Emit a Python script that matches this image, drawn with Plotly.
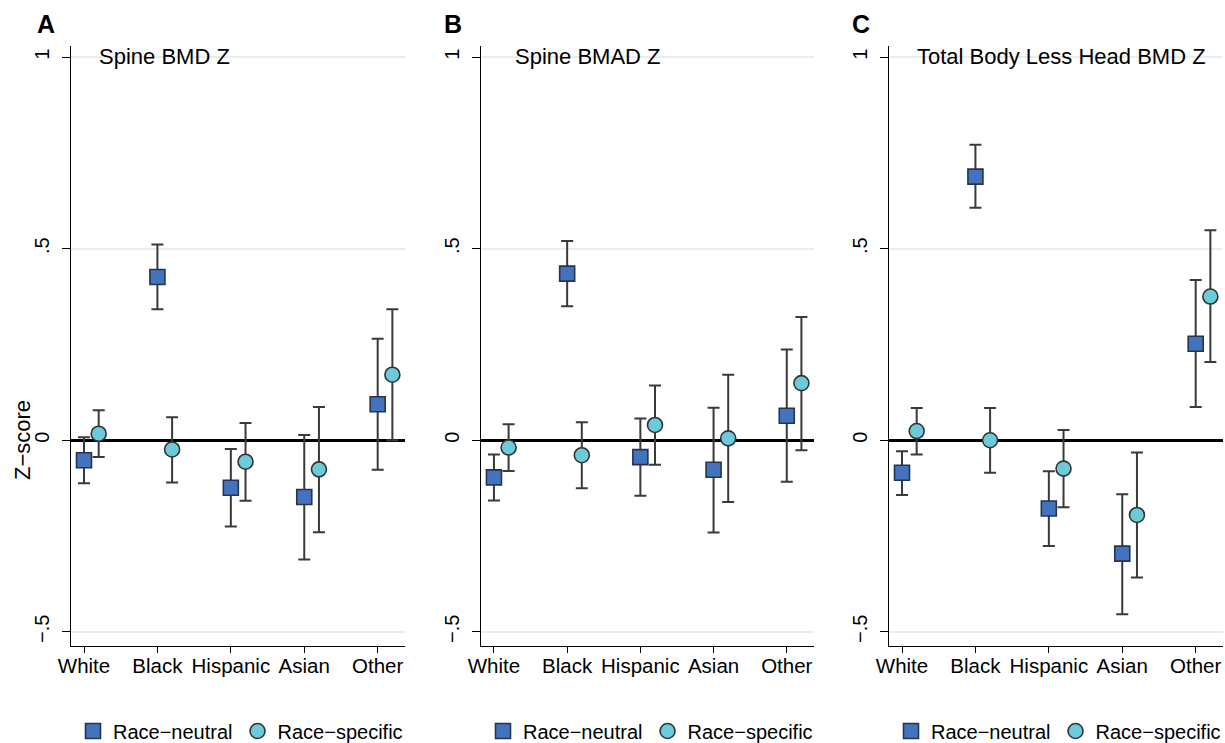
import plotly.graph_objects as go

categories = ["White", "Black", "Hispanic", "Asian", "Other"]
panel_titles = ["Spine BMD Z", "Spine BMAD Z", "Total Body Less Head BMD Z"]
panel_letters = ["A", "B", "C"]
series_names = ["Race\u2212neutral", "Race\u2212specific"]
y_title = "Z\u2212score"

# Panel A: Spine BMD Z
a_neutral = [-0.052, 0.426, -0.124, -0.148, 0.094]
a_neutral_lo = [-0.112, 0.342, -0.225, -0.311, -0.077]
a_neutral_hi = [0.008, 0.511, -0.023, 0.014, 0.265]
a_specific = [0.017, -0.024, -0.056, -0.076, 0.171]
a_specific_lo = [-0.044, -0.110, -0.158, -0.240, 0.000]
a_specific_hi = [0.078, 0.060, 0.045, 0.087, 0.342]

# Panel B: Spine BMAD Z
b_neutral = [-0.097, 0.435, -0.044, -0.077, 0.064]
b_neutral_lo = [-0.157, 0.350, -0.145, -0.241, -0.108]
b_neutral_hi = [-0.037, 0.520, 0.057, 0.085, 0.237]
b_specific = [-0.019, -0.039, 0.040, 0.005, 0.149]
b_specific_lo = [-0.080, -0.125, -0.064, -0.161, -0.026]
b_specific_hi = [0.042, 0.047, 0.143, 0.171, 0.322]

# Panel C: Total Body Less Head BMD Z
c_neutral = [-0.085, 0.688, -0.178, -0.296, 0.252]
c_neutral_lo = [-0.143, 0.607, -0.276, -0.454, 0.087]
c_neutral_hi = [-0.029, 0.771, -0.081, -0.141, 0.418]
c_specific = [0.024, 0.000, -0.074, -0.195, 0.375]
c_specific_lo = [-0.037, -0.085, -0.175, -0.358, 0.204]
c_specific_hi = [0.084, 0.084, 0.027, -0.032, 0.548]

y_tickvals = [-0.5, 0, 0.5, 1]
y_ticktext = ["\u2212.5", "0", ".5", "1"]

panels = [
    (a_neutral, a_neutral_lo, a_neutral_hi, a_specific, a_specific_lo, a_specific_hi),
    (b_neutral, b_neutral_lo, b_neutral_hi, b_specific, b_specific_lo, b_specific_hi),
    (c_neutral, c_neutral_lo, c_neutral_hi, c_specific, c_specific_lo, c_specific_hi),
]

W, H = 1225, 743
FONT = "Liberation Sans, Arial, Helvetica, sans-serif"
NEUTRAL_FILL = "#4373BF"
NEUTRAL_LINE = "#26344D"
SPECIFIC_FILL = "#6CCBDA"
SPECIFIC_LINE = "#333333"
ERR_COLOR = "#3A3A3A"
OFFSET = 0.2

# pixel layout of the three panels
x_px = [(71, 405), (481, 814), (889, 1223)]
y_px = (46, 646)
Y_TOP, Y_BOT = 1.029, -0.537
legend_px = [73, 483, 891]
title_px = [97, 513, 915]
letter_px = [46, 453, 861]

fig = go.Figure()
base_x = list(range(len(categories)))

for i, (n, nlo, nhi, s, slo, shi) in enumerate(panels):
    xa = "x" if i == 0 else f"x{i+1}"
    ya = "y" if i == 0 else f"y{i+1}"
    lg = "legend" if i == 0 else f"legend{i+1}"
    fig.add_trace(go.Scatter(
        x=base_x, y=n, xaxis=xa, yaxis=ya, mode="markers", name=series_names[0],
        legend=lg,
        marker=dict(symbol="square", size=15, color=NEUTRAL_FILL,
                    line=dict(color=NEUTRAL_LINE, width=1.6)),
        error_y=dict(type="data", symmetric=False,
                     array=[h - v for h, v in zip(nhi, n)],
                     arrayminus=[v - l for v, l in zip(n, nlo)],
                     color=ERR_COLOR, thickness=2, width=6),
    ))
    fig.add_trace(go.Scatter(
        x=[b + OFFSET for b in base_x], y=s, xaxis=xa, yaxis=ya, mode="markers",
        name=series_names[1], legend=lg,
        marker=dict(symbol="circle", size=15, color=SPECIFIC_FILL,
                    line=dict(color=SPECIFIC_LINE, width=1.6)),
        error_y=dict(type="data", symmetric=False,
                     array=[h - v for h, v in zip(shi, s)],
                     arrayminus=[v - l for v, l in zip(s, slo)],
                     color=ERR_COLOR, thickness=2, width=6),
    ))

layout = dict(
    width=W, height=H,
    margin=dict(l=0, r=0, t=0, b=0, pad=0, autoexpand=False),
    paper_bgcolor="white", plot_bgcolor="white",
    font=dict(family=FONT, color="black", size=20),
    annotations=[],
)

for i in range(3):
    sfx = "" if i == 0 else str(i + 1)
    x0, x1 = x_px[i]
    layout[f"xaxis{sfx}"] = dict(
        domain=[x0 / W, x1 / W], anchor=f"y{sfx}",
        range=[-0.177, 4.372],
        tickvals=base_x, ticktext=categories,
        showline=True, linecolor="black", linewidth=1.2,
        ticks="outside", ticklen=6, tickwidth=1.2, tickcolor="black",
        tickfont=dict(size=20.5, family=FONT), ticklabelstandoff=-5,
        showgrid=False, zeroline=False, fixedrange=True, automargin=False,
    )
    layout[f"yaxis{sfx}"] = dict(
        domain=[1 - y_px[1] / H, 1 - y_px[0] / H], anchor=f"x{sfx}",
        range=[Y_BOT, Y_TOP],
        tickvals=y_tickvals, ticktext=y_ticktext, tickangle=-90,
        showline=True, linecolor="black", linewidth=1.2,
        ticks="outside", ticklen=8, tickwidth=1.2, tickcolor="black",
        tickfont=dict(size=20, family=FONT), ticklabelstandoff=5,
        showgrid=True, gridcolor="#E6EEF1", gridwidth=1.5,
        zeroline=True, zerolinecolor="black", zerolinewidth=2.5,
        fixedrange=True, automargin=False,
    )
    layout["legend" if i == 0 else f"legend{i+1}"] = dict(
        orientation="h", x=legend_px[i] / W, xanchor="left",
        y=(H - 731) / H, yanchor="middle",
        font=dict(size=20, family=FONT), bgcolor="rgba(0,0,0,0)",
        itemclick=False, itemdoubleclick=False,
    )
    layout["annotations"].append(dict(
        text=panel_titles[i], x=title_px[i] / W, y=1 - 57 / H,
        xref="paper", yref="paper", xanchor="left", yanchor="middle",
        showarrow=False, font=dict(size=22, family=FONT, color="black"),
    ))
    layout["annotations"].append(dict(
        text=f"<b>{panel_letters[i]}</b>", x=letter_px[i] / W, y=1 - 24 / H,
        xref="paper", yref="paper", xanchor="center", yanchor="middle",
        showarrow=False, font=dict(size=25, family=FONT, color="black"),
    ))

layout["annotations"].append(dict(
    text=y_title, x=22 / W, y=1 - 440 / H, textangle=-90,
    xref="paper", yref="paper", xanchor="center", yanchor="middle",
    showarrow=False, font=dict(size=22, family=FONT, color="black"),
))

fig.update_layout(**layout)
fig.write_html("out.html", config={"displayModeBar": False},
               post_script="document.body.style.margin='0px';document.body.style.overflow='hidden';")
